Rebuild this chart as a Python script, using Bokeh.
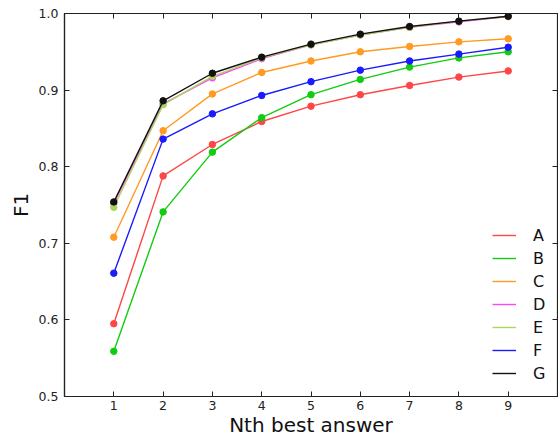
from bokeh.plotting import figure
from bokeh.models import FixedTicker, LinearAxis, Range1d, Legend, LegendItem, PrintfTickFormatter
from bokeh.embed import file_html
from bokeh.resources import INLINE

x_vals = [1, 2, 3, 4, 5, 6, 7, 8, 9]
series_names = ["A", "B", "C", "D", "E", "F", "G"]
A = [0.595, 0.788, 0.829, 0.859, 0.879, 0.894, 0.906, 0.917, 0.925]
B = [0.559, 0.741, 0.819, 0.864, 0.894, 0.914, 0.930, 0.942, 0.950]
C = [0.708, 0.847, 0.895, 0.923, 0.938, 0.950, 0.957, 0.963, 0.967]
D = [0.752, 0.882, 0.916, 0.941, 0.959, 0.972, 0.982, 0.989, 0.996]
E = [0.747, 0.881, 0.918, 0.942, 0.959, 0.972, 0.982, 0.990, 0.996]
F = [0.661, 0.836, 0.869, 0.893, 0.911, 0.926, 0.938, 0.947, 0.956]
G = [0.754, 0.886, 0.922, 0.943, 0.960, 0.973, 0.983, 0.990, 0.9965]
series_values = [A, B, C, D, E, F, G]
colors = ["#ff4646", "#12cc12", "#ff9a22", "#ff44ff", "#acd45c", "#1a1aff", "#111111"]
x_ticks = [1, 2, 3, 4, 5, 6, 7, 8, 9]
y_ticks = [0.5, 0.6, 0.7, 0.8, 0.9, 1.0]

FONT = "DejaVu Sans"

p = figure(width=558, height=439, output_backend="svg", toolbar_location=None,
           x_range=Range1d(0, 10), y_range=Range1d(0.5, 1.0),
           min_border_left=64, min_border_right=1, min_border_top=13, min_border_bottom=43)
p.background_fill_color = "white"
p.border_fill_color = "white"
p.grid.visible = False
p.outline_line_color = "#222222"
p.outline_line_width = 1.2

for ax in [p.xaxis[0], p.yaxis[0]]:
    ax.major_tick_in = 5
    ax.major_tick_out = 0
    ax.minor_tick_in = 0
    ax.minor_tick_out = 0
    ax.axis_line_color = "#222222"
    ax.axis_line_width = 1.2
    ax.major_tick_line_color = "#222222"
    ax.major_label_text_font = FONT
    ax.major_label_text_font_size = "12.5px"
    ax.major_label_text_color = "#222222"
    ax.axis_label_text_font = FONT
    ax.axis_label_text_font_size = "20px"
    ax.axis_label_text_font_style = "normal"
    ax.axis_label_text_color = "#111111"

p.xaxis[0].ticker = FixedTicker(ticks=x_ticks)
p.yaxis[0].ticker = FixedTicker(ticks=y_ticks)
p.yaxis[0].formatter = PrintfTickFormatter(format="%.1f")
p.xaxis[0].axis_label = "Nth best answer"
p.yaxis[0].axis_label = "F1"
p.xaxis[0].major_label_standoff = 4
p.yaxis[0].major_label_standoff = 6
p.xaxis[0].axis_label_standoff = 0
p.yaxis[0].axis_label_standoff = 3

top = LinearAxis(ticker=FixedTicker(ticks=x_ticks))
right = LinearAxis(ticker=FixedTicker(ticks=y_ticks))
for ax in [top, right]:
    ax.major_tick_in = 5
    ax.major_tick_out = 0
    ax.minor_tick_in = 0
    ax.minor_tick_out = 0
    ax.major_label_text_font_size = "0px"
    ax.major_label_standoff = 0
    ax.axis_line_color = "#222222"
    ax.major_tick_line_color = "#222222"
p.add_layout(top, "above")
p.add_layout(right, "right")

items = []
for name, vals, col in zip(series_names, series_values, colors):
    r = p.line(x_vals, vals, line_color=col, line_width=1.4)
    p.scatter(x_vals, vals, size=6.5, fill_color=col, line_color=col)
    items.append(LegendItem(label=name, renderers=[r]))

legend = Legend(items=items, location=(428, 13))
legend.border_line_color = None
legend.background_fill_alpha = 0
legend.label_text_font = FONT
legend.label_text_font_size = "16px"
legend.label_text_color = "#111111"
legend.glyph_width = 24
legend.glyph_height = 20
legend.label_height = 20
legend.spacing = 3
legend.label_standoff = 17
legend.padding = 10
legend.margin = 0
p.add_layout(legend)

open("out.html", "w").write(file_html(p, INLINE))
